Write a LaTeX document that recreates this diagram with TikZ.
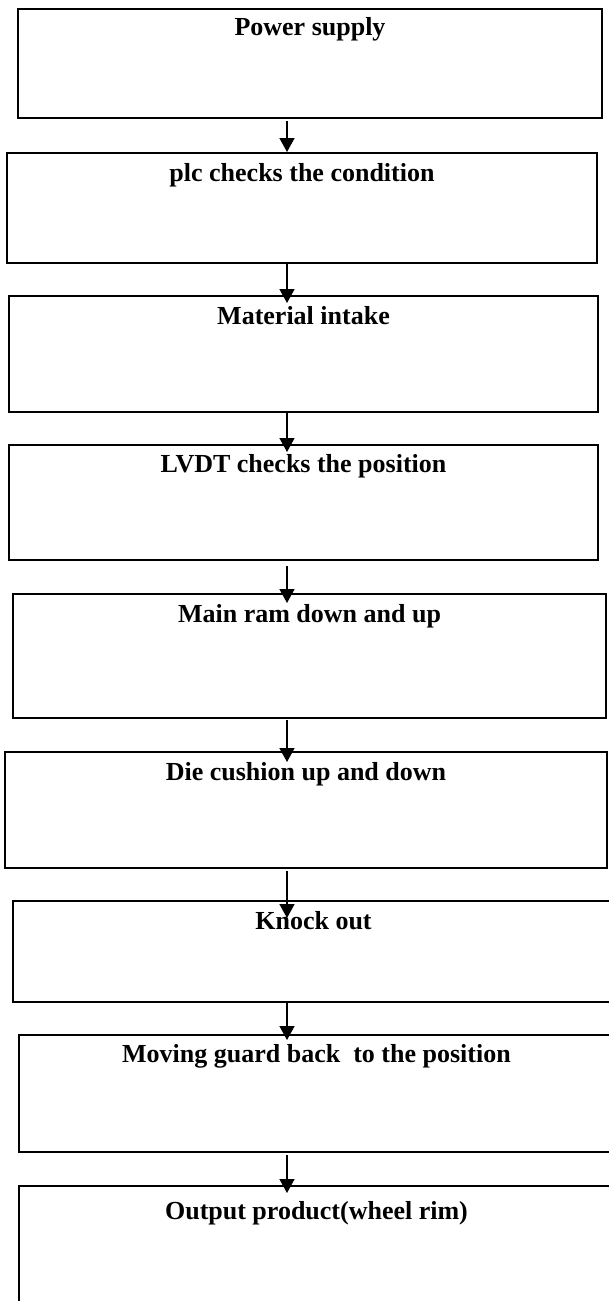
\documentclass[tikz,border=0pt]{standalone}
\usepackage{fontspec}
\setmainfont{Liberation Serif}
\usetikzlibrary{arrows.meta}
\begin{document}
\begin{tikzpicture}[x=1pt,y=1pt,
  box/.style={draw=black, line width=2.6pt, rectangle, inner sep=0pt, outer sep=0pt},
  txt/.style={anchor=base, inner sep=0pt, font=\bfseries\fontsize{26}{30}\selectfont},
  arr/.style={draw=black, line width=1.5pt, -{Triangle[length=14pt,width=15pt]}}]
\useasboundingbox (0,0) rectangle (608,-1301);
\fill[white] (0,0) rectangle (608,-1301);
\coordinate (ax) at (287,0);
% boxes
\node[box, minimum width=584pt, minimum height=109pt] (b1) at (310,-63.5) {};
\node[box, minimum width=590pt, minimum height=110pt] (b2) at (302,-208) {};
\node[box, minimum width=589pt, minimum height=116pt] (b3) at (303.5,-354) {};
\node[box, minimum width=589pt, minimum height=115pt] (b4) at (303.5,-502.5) {};
\node[box, minimum width=593pt, minimum height=124pt] (b5) at (309.5,-656) {};
\node[box, minimum width=602pt, minimum height=116pt] (b6) at (306,-810) {};
\node[box, minimum width=601pt, minimum height=101pt] (b7) at (313.5,-951.5) {};
\node[box, minimum width=595pt, minimum height=117pt] (b8) at (316.5,-1093.5) {};
\node[box, minimum width=595pt, minimum height=134pt] (b9) at (316.5,-1253) {};
% texts
\node[txt] (t1) at ([yshift=-26pt]b1.north) {Power supply};
\node[txt] (t2) at ([yshift=-28pt]b2.north) {plc checks the condition};
\node[txt] (t3) at ([yshift=-28pt]b3.north) {Material intake};
\node[txt] (t4) at ([yshift=-27pt]b4.north) {LVDT checks the position};
\node[txt] (t5) at ([yshift=-28pt]b5.north) {Main ram down and up};
\node[txt] (t6) at ([yshift=-28pt]b6.north) {Die cushion up and down};
\node[txt] (t7) at ([yshift=-28pt]b7.north) {Knock out};
\node[txt] (t8) at ([yshift=-27pt]b8.north) {Moving guard back\ \ to the position};
\node[txt] (t9) at ([yshift=-33pt]b9.north) {Output product(wheel rim)};
% arrows
\draw[arr] ([yshift=-3pt]b1.south -| ax) -- ([yshift=1pt]b2.north -| ax);
\draw[arr] ([yshift=1pt]b2.south -| ax) -- ([yshift=-7pt]b3.north -| ax);
\draw[arr] ([yshift=-1pt]b3.south -| ax) -- ([yshift=-7pt]b4.north -| ax);
\draw[arr] ([yshift=-6pt]b4.south -| ax) -- ([yshift=-9pt]b5.north -| ax);
\draw[arr] ([yshift=-2pt]b5.south -| ax) -- ([yshift=-10pt]b6.north -| ax);
\draw[arr] ([yshift=-3pt]b6.south -| ax) -- ([yshift=-17pt]b7.north -| ax);
\draw[arr] ([yshift=0pt]b7.south -| ax) -- ([yshift=-5pt]b8.north -| ax);
\draw[arr] ([yshift=-3pt]b8.south -| ax) -- ([yshift=-7pt]b9.north -| ax);
\end{tikzpicture}
\end{document}
